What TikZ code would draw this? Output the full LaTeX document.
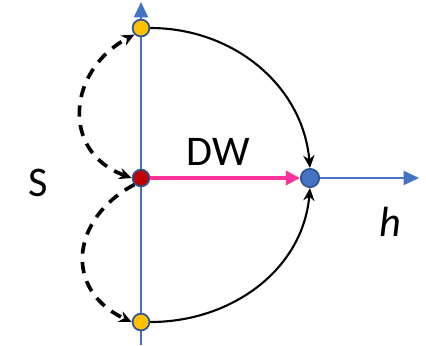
\documentclass[tikz,border=0pt]{standalone}
\usepackage{fontspec}
\setmainfont{Carlito}
\usetikzlibrary{arrows.meta}
\definecolor{axisblue}{RGB}{68,114,196}
\definecolor{rimblue}{RGB}{47,82,143}
\definecolor{gold}{RGB}{255,192,0}
\definecolor{darkred}{RGB}{192,0,0}
\definecolor{hotpink}{RGB}{255,51,153}
\begin{document}
\begin{tikzpicture}[x=0.025cm,y=-0.025cm,>={Stealth[length=9pt,width=8pt]},thick]
  \tikzstyle{dot}=[circle, draw=rimblue, line width=1.2pt, inner sep=0pt, minimum size=0.42cm]
  \tikzstyle{axis}=[draw=axisblue, line width=1.5pt, -{Triangle[length=11pt,width=10pt]}]
  \tikzstyle{hop}=[black, line width=2.6pt, dash pattern=on 8pt off 6pt]
  \useasboundingbox (0,0) rectangle (426,345);

  \coordinate (vbot) at (141,345);
  \coordinate (vtop) at (141,2);
  \coordinate (hend) at (419,178);
  \draw[axis] (vbot) -- (vtop);

  \node[dot, fill=gold] (up) at (141,28) {};
  \node[dot, fill=darkred] (mid) at (141,178) {};
  \node[dot, fill=gold] (down) at (141,322) {};
  \node[dot, fill=axisblue, minimum size=0.46cm] (out) at (310,178) {};

  \draw[axis] (out.east) -- (hend);
  \draw[hotpink, line width=3.5pt, -{Triangle[length=10pt,width=10pt]}] (mid.east) -- (out.west);

  \draw[->, line width=1.5pt] (up.east) to[out=0, in=95] (out.north);
  \draw[->, line width=1.5pt] (down.east) to[out=0, in=-95] (out.south);

  \draw[hop, <->] (mid.west) .. controls +(200:76) and +(152:76) .. (up.south west);
  \draw[hop, ->] (mid.south west) .. controls +(152:72) and +(205:76) .. (down.west);

  \node[font=\fontsize{30}{32}\selectfont] (dw) at (218,152) {DW};
  \node[font=\fontsize{30}{32}\selectfont] (s) at (38,183) {S};
  \node[font=\fontsize{30}{32}\selectfont\itshape] (h) at (390,222) {h};
\end{tikzpicture}
\end{document}
